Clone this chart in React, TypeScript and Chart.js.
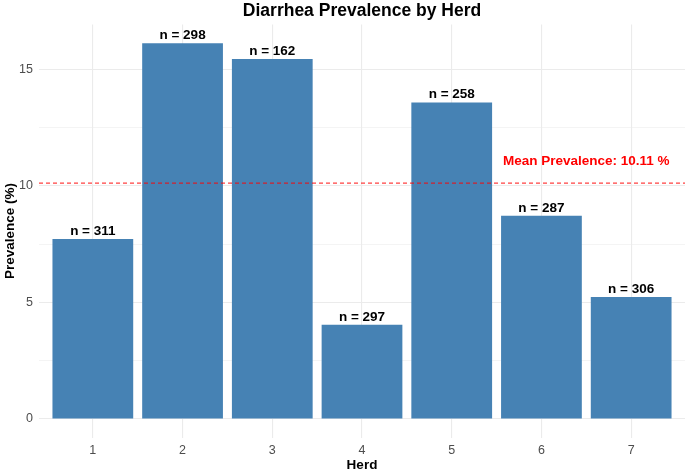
import React, { useEffect, useRef } from "react";
import { Chart, registerables } from "chart.js";

Chart.register(...registerables);

const herds = [1, 2, 3, 4, 5, 6, 7];
const prevalence = [7.72, 16.11, 15.43, 4.04, 13.57, 8.71, 5.23];
const sampleSizes = [311, 298, 162, 297, 258, 287, 306];
const meanPrevalence = 10.11;
const yTicks = [0, 2.5, 5, 7.5, 10, 12.5, 15];

const FONT = "'Liberation Sans', Arial, sans-serif";

export default function App() {
  const ref = useRef<HTMLCanvasElement | null>(null);

  useEffect(() => {
    document.body.style.margin = "0";
    const canvas = ref.current;
    if (!canvas) return;

    const overlay = {
      id: "overlay",
      afterDatasetsDraw(chart: any) {
        const ctx = chart.ctx;
        const xs = chart.scales.x;
        const ys = chart.scales.y;
        const area = chart.chartArea;
        const meta = chart.getDatasetMeta(0);
        ctx.save();
        // n labels
        ctx.fillStyle = "#000";
        ctx.font = `bold 13.5px ${FONT}`;
        ctx.textAlign = "center";
        ctx.textBaseline = "alphabetic";
        meta.data.forEach((el: any, i: number) => {
          ctx.fillText(`n = ${sampleSizes[i]}`, el.x, el.y - 4);
        });
        // mean line
        const my = ys.getPixelForValue(meanPrevalence);
        ctx.strokeStyle = "rgba(255,0,0,0.75)";
        ctx.lineWidth = 1.1;
        ctx.setLineDash([4, 3]);
        ctx.beginPath();
        ctx.moveTo(area.left, my);
        ctx.lineTo(area.right, my);
        ctx.stroke();
        ctx.setLineDash([]);
        // mean label
        ctx.fillStyle = "#FF0000";
        ctx.font = `bold 13.5px ${FONT}`;
        ctx.textBaseline = "middle";
        ctx.fillText(
          `Mean Prevalence: ${meanPrevalence.toFixed(2)} %`,
          xs.getPixelForValue(6.5),
          ys.getPixelForValue(11.05)
        );
        // titles
        ctx.fillStyle = "#000";
        ctx.font = `bold 17.5px ${FONT}`;
        ctx.textBaseline = "middle";
        ctx.fillText("Diarrhea Prevalence by Herd", (area.left + area.right) / 2, 11);
        ctx.font = `bold 13.5px ${FONT}`;
        ctx.fillText("Herd", (area.left + area.right) / 2, 465.5);
        ctx.translate(10, (area.top + area.bottom) / 2);
        ctx.rotate(-Math.PI / 2);
        ctx.fillText("Prevalence (%)", 0, 0);
        ctx.restore();
      },
    };

    const chart = new Chart(canvas, {
      type: "bar",
      data: {
        datasets: [
          {
            data: herds.map((h, i) => ({ x: h, y: prevalence[i] })),
            backgroundColor: "#4682B4",
            borderWidth: 0,
            barPercentage: 0.9,
            categoryPercentage: 1.0,
          },
        ],
      },
      options: {
        animation: false,
        responsive: false,
        maintainAspectRatio: false,
        layout: { padding: { top: 24.4, left: 0, right: 0, bottom: 0 } },
        plugins: {
          legend: { display: false },
          tooltip: { enabled: false },
          title: { display: false },
        },
        scales: {
          x: {
            type: "linear",
            min: 0.4,
            max: 7.6,
            offset: false,
            afterBuildTicks: (s: any) => {
              s.ticks = herds.map((v) => ({ value: v }));
            },
            afterFit: (s: any) => {
              s.height = 34.2;
            },
            ticks: {
              color: "#4D4D4D",
              font: { family: FONT, size: 12.5 },
              padding: 5,
              maxRotation: 0,
              autoSkip: false,
              callback: (v: any) => String(v),
            },
            grid: { color: "#EBEBEB", lineWidth: 1.1, drawTicks: false, offset: false },
            border: { display: false },
          },
          y: {
            type: "linear",
            min: -0.8055,
            max: 16.9155,
            afterBuildTicks: (s: any) => {
              s.ticks = yTicks.map((v) => ({ value: v }));
            },
            afterFit: (s: any) => {
              s.width = 39;
            },
            ticks: {
              color: "#4D4D4D",
              font: { family: FONT, size: 12.5 },
              padding: 6,
              autoSkip: false,
              callback: (v: any) => (v % 5 === 0 ? String(v) : ""),
            },
            grid: {
              color: "#EBEBEB",
              lineWidth: (c: any) => (c.tick && c.tick.value % 5 === 0 ? 1.1 : 0.55),
              drawTicks: false,
            },
            border: { display: false },
          },
        },
      },
      plugins: [overlay],
    } as any);

    return () => chart.destroy();
  }, []);

  return (
    <div style={{ position: "absolute", left: 0, top: 0, width: 685, height: 472 }}>
      <canvas ref={ref} width={685} height={472} style={{ width: 685, height: 472 }} />
    </div>
  );
}
